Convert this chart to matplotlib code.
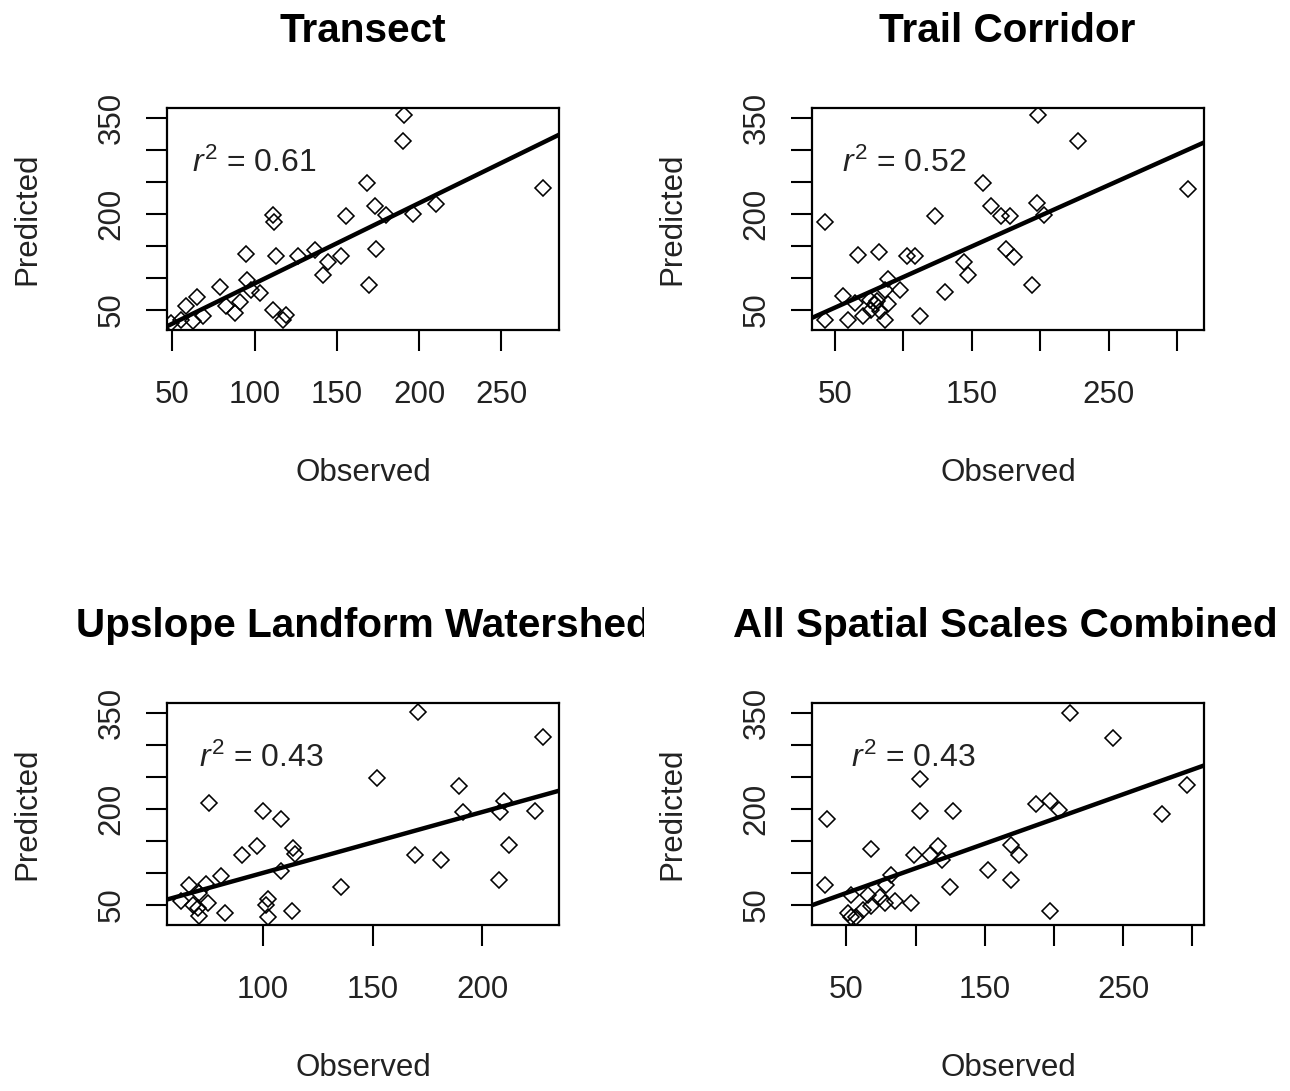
import numpy as np
import matplotlib
matplotlib.use("Agg")
import matplotlib.pyplot as plt
from matplotlib.transforms import Bbox, TransformedBbox

plt.rcParams['font.family'] = ['Liberation Sans', 'DejaVu Sans']
plt.rcParams['mathtext.fontset'] = 'custom'
plt.rcParams['mathtext.rm'] = 'Liberation Sans'
plt.rcParams['mathtext.it'] = 'Liberation Sans:italic'

# Observed / predicted values
titles = ["Transect", "Trail Corridor", "Upslope Landform Watershed", "All Spatial Scales Combined"]
r2_labels = ["0.61", "0.52", "0.43", "0.43"]

obs_transect = [191, 190, 275, 168, 173, 210, 196, 180, 155.7, 111, 112, 173.5, 152.6, 144.5,
                141.5, 136.4, 126.3, 112.8, 94.5, 169.4, 95.3, 103, 98, 78.7, 90.9, 87.9, 82.8,
                65, 58.5, 68.6, 62.5, 55.5, 111, 119, 117, 49.4]
pred_transect = [355, 315, 240.5, 248, 213, 216, 200, 199, 196, 199, 188, 145, 133.5, 124.6,
                 105, 143, 134.6, 133.5, 137.7, 89, 97, 76, 81, 85.5, 61.5, 45, 55,
                 70, 56, 39.6, 32, 34.4, 50, 42, 33.3, 29]

obs_trail = [198, 227.6, 307.8, 158.5, 42.7, 123, 164, 171.5, 178, 197.6, 203, 175, 181, 144,
             147.6, 102.4, 108.5, 82, 67, 194, 130.5, 112, 97.6, 89, 86.6, 56, 42.7, 59.8,
             70.7, 86.6, 89, 79.3, 76.8, 80.5, 75.6, 64.6, 83]
pred_trail = [355, 315, 239.4, 248, 188, 196, 213, 196, 196, 217, 199, 145, 132.5, 124.6,
              105, 133.5, 133.5, 140, 136, 89, 77, 40.7, 80, 98, 81.3, 71, 33.4, 33.4,
              39.6, 33.4, 58, 58, 50, 63, 65.7, 60.5, 47.4]

obs_upslope = [170.7, 227.7, 152, 189.2, 75.4, 100, 108, 210, 208, 224, 191, 212, 169.5, 181,
               207.6, 135.7, 113.7, 114.4, 97.3, 90.6, 108.4, 81, 66.2, 74.2, 62.8, 71, 74.9,
               68, 71, 82.5, 102.3, 101.2, 102.3, 113, 70.4]
pred_upslope = [351.5, 312, 248, 236, 209, 196, 184.6, 213, 195, 197, 195, 144, 128, 120.5,
                89, 77, 138.7, 129.3, 141.3, 128, 103, 94.4, 81.4, 82.4, 55.3, 68.3, 52.7,
                50, 32, 37, 59.4, 49, 30, 40.7, 45]

obs_all = [211.8, 243, 103, 296, 36.2, 103, 127.3, 187.2, 197.3, 203.9, 278.3, 67.6, 99, 110.4,
           116, 119.3, 169, 175, 152.7, 169, 124.9, 197.3, 34.8, 53.6, 65.7, 78.3, 82, 85,
           77.8, 68, 97, 51.2, 57.2, 53.6, 62, 74]
pred_all = [350, 311, 247, 237, 184.6, 196, 196, 207.6, 211.8, 198.7, 192.5, 137.7, 128.3, 128.3,
            141.3, 120.5, 144, 128.3, 104.8, 89, 77, 40.7, 80.3, 65.7, 65.7, 80.3, 97, 56.3,
            52.7, 47.4, 52.7, 37, 30, 30, 42.2, 61.5]

# fitted regression lines (intercept, slope)
fit_intercept = [-35, 4.9, 4.3, 29.6]
fit_slope = [1.26, 0.961, 0.954, 0.773]

x_ticks = [[50, 100, 150, 200, 250], [50, 100, 150, 200, 250, 300],
           [100, 150, 200], [50, 100, 150, 200, 250, 300]]
x_ticklabels = [["50", "100", "150", "200", "250"], ["50", "", "150", "", "250", ""],
                ["100", "150", "200"], ["50", "", "150", "", "250", ""]]
y_ticks = [50, 100, 150, 200, 250, 300, 350]
y_ticklabels = ["50", "", "", "200", "", "", "350"]

xlims = [(46.7, 285), (33.4, 319.5), (56.2, 235), (25.1, 308.5)]
ylim = (18, 366)

observed = [obs_transect, obs_trail, obs_upslope, obs_all]
predicted = [pred_transect, pred_trail, pred_upslope, pred_all]

fig = plt.figure(figsize=(12.9, 10.91), dpi=100)

# axes positions in pixels: left, top
pos_px = [(167, 108), (812, 108), (167, 703), (812, 703)]
W, H = 392, 222
text_x = [0.064, 0.076, 0.082, 0.10]
title_cx = [363, 1007, 363, 1005]

for i in range(4):
    lx, ty = pos_px[i]
    ax = fig.add_axes([lx / 1290, 1 - (ty + H) / 1091, W / 1290, H / 1091])
    ax.plot(observed[i], predicted[i], linestyle='none', marker='D', ms=8.6,
            mfc='none', mec='black', mew=1.15)
    xs = np.array(xlims[i])
    ax.plot(xs, fit_intercept[i] + fit_slope[i] * xs, color='black', lw=3.2, solid_capstyle='butt')
    ax.set_xlim(xlims[i])
    ax.set_ylim(ylim)
    ax.set_xticks(x_ticks[i])
    ax.set_xticklabels(x_ticklabels[i])
    ax.set_yticks(y_ticks)
    ax.set_yticklabels(y_ticklabels, rotation=90, va='center')
    ax.tick_params(length=15, width=1.5, labelsize=22.5, labelcolor='#222222')
    ax.tick_params(axis='x', pad=21)
    ax.tick_params(axis='y', pad=14)
    for s in ax.spines.values():
        s.set_linewidth(1.6)
    ax.text(text_x[i], 0.712, r'$\it{r}^2$' + ' = ' + r2_labels[i], transform=ax.transAxes,
            fontsize=23, color='#222222', va='baseline', ha='left')
    ax.text(0.5, -0.644, "Observed", transform=ax.transAxes, fontsize=22.5,
            color='#222222', ha='center', va='center')
    ax.text(-0.355, 0.5, "Predicted", transform=ax.transAxes, fontsize=22.5,
            color='#222222', ha='center', va='center', rotation=90)

    # panel title, clipped to its half of the page
    cy = 1 - (31 if ty < 500 else 626) / 1091
    t = fig.text(title_cx[i] / 1290, cy, titles[i], fontsize=29.2, fontweight='bold',
                 ha='center', va='center')
    if i % 2 == 0:
        half = Bbox([[0.0, 0.0], [644 / 1290, 1.0]])
    else:
        half = Bbox([[644 / 1290, 0.0], [1.0, 1.0]])
    t.set_clip_box(TransformedBbox(half, fig.transFigure))
    t.set_clip_on(True)

fig.savefig("out.png", dpi=100)
